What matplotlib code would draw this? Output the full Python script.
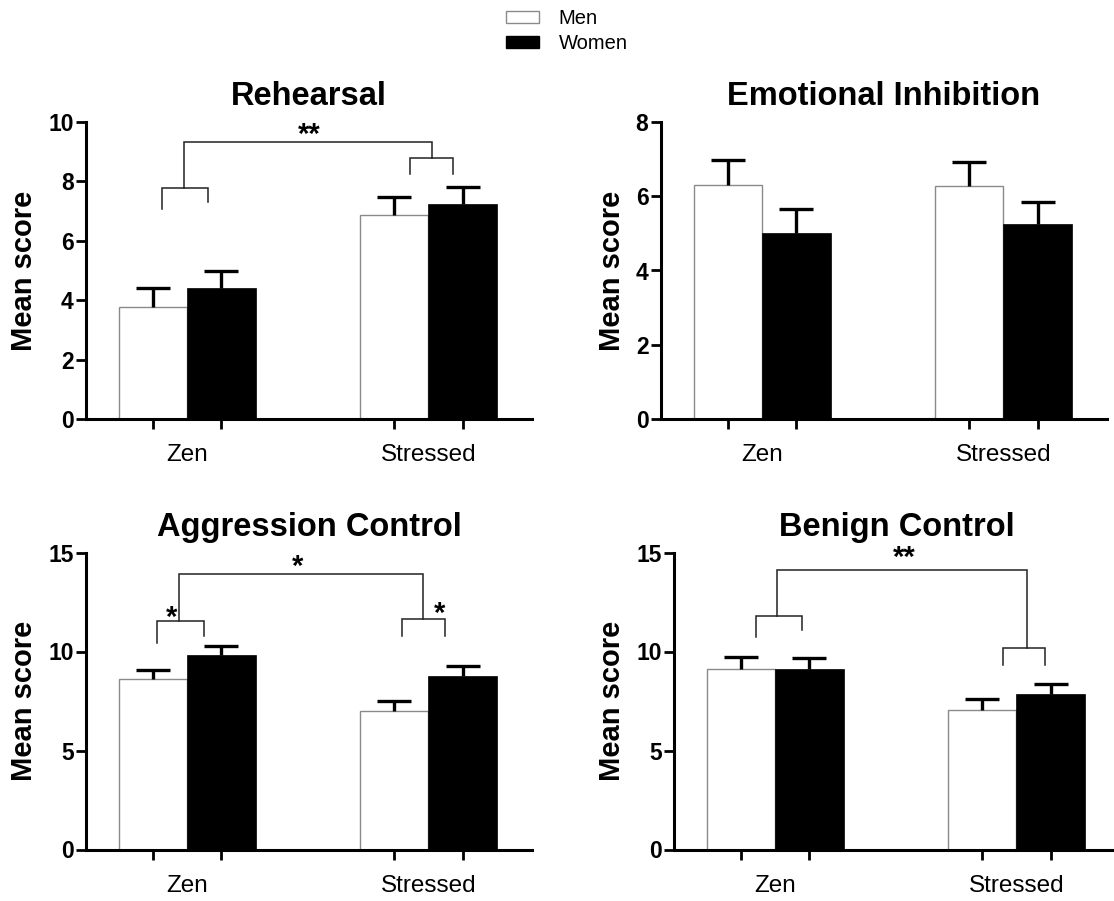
import numpy as np
import matplotlib
matplotlib.use('Agg')
import matplotlib.pyplot as plt
from matplotlib.patches import Patch

plt.rcParams['font.family'] = ['Liberation Sans', 'DejaVu Sans']

# data
groups = ['Zen', 'Stressed']
series = ['Men', 'Women']
titles = ['Rehearsal', 'Emotional Inhibition', 'Aggression Control', 'Benign Control']
men_mean = [[3.78, 6.86], [6.29, 6.27], [8.59, 7.00], [9.12, 7.07]]
men_sem = [[0.62, 0.61], [0.67, 0.65], [0.50, 0.52], [0.58, 0.54]]
women_mean = [[4.40, 7.24], [5.02, 5.24], [9.80, 8.76], [9.13, 7.83]]
women_sem = [[0.59, 0.57], [0.63, 0.59], [0.49, 0.50], [0.56, 0.53]]
y_max = [10, 8, 15, 15]
y_step = [2, 2, 5, 5]

# significance brackets: (x_left, x_right, y_top, y_bottom_left, y_bottom_right)
brackets = [
    [(-0.104, 0.088, 7.76, 7.06, 7.29), (0.925, 1.101, 8.77, 8.23, 8.23),
     (-0.014, 1.015, 9.33, 7.76, 8.77)],
    [],
    [(-0.126, 0.068, 11.56, 10.45, 10.80), (0.891, 1.068, 11.63, 10.80, 10.80),
     (-0.035, 0.976, 13.91, 11.56, 11.63)],
    [(-0.081, 0.110, 11.78, 10.73, 11.09), (0.946, 1.119, 10.16, 9.33, 9.33),
     (0.009, 1.044, 14.14, 11.78, 10.16)],
]
stars = [
    [('**', 0.504, 9.66)],
    [],
    [('*', 0.456, 14.43), ('*', -0.066, 11.86), ('*', 1.046, 12.07)],
    [('**', 0.537, 14.87)],
]

W, H = 1114, 901
fig = plt.figure(figsize=(W / 100, H / 100), dpi=100)

# axes boxes in pixels: left, top(=y_max), bottom(=0)
boxes = [(86, 121.7, 419.3), (661, 121.7, 419.3), (86, 552.5, 849.5), (674, 552.5, 849.5)]
ax_w = 446

bw = 0.284
x = np.arange(len(groups))


def upper_err(ax, xs, means, sems):
    eb = ax.errorbar(xs, means, yerr=[np.zeros(len(xs)), sems], fmt='none',
                     ecolor='black', elinewidth=2.4, capsize=12, capthick=2.4)
    eb[1][0].set_visible(False)  # hide the lower cap


for i in range(4):
    l, t, b = boxes[i]
    ax = fig.add_axes([l / W, 1 - b / H, ax_w / W, (b - t) / H])
    ax.bar(x - bw / 2, men_mean[i], bw, color='white', edgecolor='#8a8a8a', linewidth=1.0)
    ax.bar(x + bw / 2, women_mean[i], bw, color='black', edgecolor='black', linewidth=0.5)
    upper_err(ax, x - bw / 2, men_mean[i], men_sem[i])
    upper_err(ax, x + bw / 2, women_mean[i], women_sem[i])

    for (x1, x2, yt, yb1, yb2) in brackets[i]:
        ax.plot([x1, x1, x2, x2], [yb1, yt, yt, yb2], color='#222222', lw=1.1,
                clip_on=False, solid_joinstyle='miter')
    for (s, sx, sy) in stars[i]:
        ax.annotate(s, (sx, sy), xytext=(0, -8), textcoords='offset points',
                    ha='center', va='baseline', fontsize=21, fontweight='bold',
                    annotation_clip=False)

    ax.set_xlim(-0.42, 1.43)
    ax.set_ylim(0, y_max[i])
    ax.set_yticks(np.arange(0, y_max[i] + 1, y_step[i]))
    ax.set_xticks(x)
    ax.set_xticklabels(groups, fontsize=17.5)
    ax.set_xticks(np.concatenate([x - bw / 2, x + bw / 2]), minor=True)
    ax.tick_params(axis='x', which='major', length=0, pad=18)
    ax.tick_params(axis='x', which='minor', length=7, width=2, direction='out')
    ax.tick_params(axis='y', length=7, width=2, pad=2, labelsize=16.5)
    for lab in ax.get_yticklabels():
        lab.set_fontweight('bold')
    for sp in ['top', 'right']:
        ax.spines[sp].set_visible(False)
    for sp in ['left', 'bottom']:
        ax.spines[sp].set_linewidth(2.2)
    ax.set_ylabel('Mean score', fontsize=21, fontweight='bold', labelpad=7)
    ax.set_title(titles[i], fontsize=23.5, fontweight='bold', pad=12)

handles = [Patch(facecolor='white', edgecolor='#8a8a8a', linewidth=1.0),
           Patch(facecolor='black', edgecolor='black')]
fig.legend(handles, series, loc='upper left', bbox_to_anchor=(506 / W, 1 - 9 / H),
           frameon=False, fontsize=14.5, handlelength=1.66, handleheight=0.56,
           handletextpad=0.95, labelspacing=0.32, borderpad=0, borderaxespad=0)

fig.savefig('out.png', dpi=100)
